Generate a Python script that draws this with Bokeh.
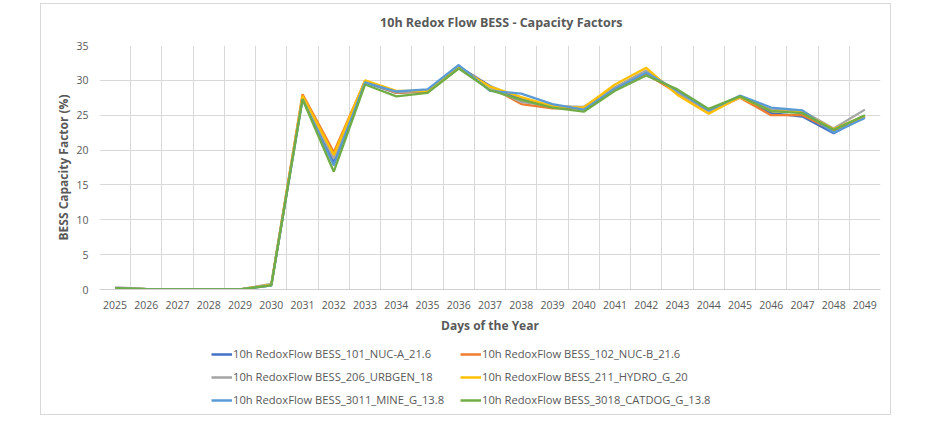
from bokeh.plotting import figure
from bokeh.models import FixedTicker, Legend, LegendItem, Label
from bokeh.layouts import column
from bokeh.embed import file_html
from bokeh.resources import INLINE

years = list(range(2025, 2050))

title_text = "10h Redox Flow BESS - Capacity Factors"
names = [
    "10h RedoxFlow BESS_101_NUC-A_21.6",
    "10h RedoxFlow BESS_102_NUC-B_21.6",
    "10h RedoxFlow BESS_206_URBGEN_18",
    "10h RedoxFlow BESS_211_HYDRO_G_20",
    "10h RedoxFlow BESS_3011_MINE_G_13.8",
    "10h RedoxFlow BESS_3018_CATDOG_G_13.8",
]
colors = ["#4472C4", "#ED7D31", "#A5A5A5", "#FFC000", "#5B9BD5", "#70AD47"]

s101 = [0.2, 0.05, 0, 0, 0, 0.6, 27.5, 18.2, 29.7, 28.2, 28.5, 32.0, 29.2, 27.3, 26.3,
        25.9, 28.7, 31.0, 28.5, 25.6, 27.7, 25.3, 24.8, 22.4, 24.8]
s102 = [0.2, 0.05, 0, 0, 0, 0.7, 28.0, 19.7, 29.9, 28.2, 28.4, 31.9, 29.1, 26.6, 26.0,
        26.0, 28.6, 30.9, 28.2, 25.4, 27.5, 25.0, 25.0, 22.8, 24.9]
s206 = [0.3, 0.1, 0, 0, 0, 0.8, 27.6, 18.8, 29.8, 28.3, 28.5, 31.9, 29.0, 26.9, 26.3,
        26.2, 29.0, 31.4, 28.3, 25.5, 27.6, 25.8, 25.6, 23.1, 25.8]
s211 = [0.2, 0.05, 0, 0, 0, 0.7, 27.8, 19.3, 30.0, 28.5, 28.5, 31.8, 29.1, 27.6, 26.3,
        26.1, 29.4, 31.8, 27.9, 25.2, 27.6, 25.6, 25.4, 23.0, 24.9]
s3011 = [0.2, 0.05, 0, 0, 0, 0.6, 27.3, 17.8, 29.7, 28.4, 28.7, 32.2, 28.5, 28.1, 26.6,
         25.8, 28.8, 31.1, 28.5, 25.7, 27.8, 26.1, 25.7, 22.5, 24.6]
s3018 = [0.2, 0.05, 0, 0, 0, 0.6, 27.3, 16.9, 29.4, 27.7, 28.2, 31.7, 28.6, 27.2, 26.1,
         25.5, 28.5, 30.7, 28.7, 25.9, 27.7, 25.6, 25.3, 22.9, 25.0]
series = [s101, s102, s206, s211, s3011, s3018]

y_ticks = [0, 5, 10, 15, 20, 25, 30, 35]

TXT = "#595959"
FONT = "Open Sans"


def strip(height):
    f = figure(width=849, height=height, output_backend="svg", toolbar_location=None,
               x_range=(0, 1), y_range=(0, 1), min_border=0)
    f.axis.visible = False
    f.grid.visible = False
    f.outline_line_color = None
    f.background_fill_color = "white"
    f.border_fill_color = "white"
    return f


# ---------------- title strip ----------------
tt = strip(32)
tt.add_layout(Label(x=0.5145, y=0.44, text=title_text, text_align="center",
                    text_baseline="middle", text_font=FONT, text_font_size="12.5px",
                    text_font_style="bold", text_color=TXT))

# ---------------- main chart ----------------
p = figure(width=849, height=307, output_backend="svg", toolbar_location=None,
           x_range=(years[0] - 0.5, years[-1] + 0.5), y_range=(0, 35),
           min_border_left=58, min_border_right=10, min_border_top=9,
           min_border_bottom=54)
p.outline_line_color = None
p.background_fill_color = "white"
p.border_fill_color = "white"

p.xgrid.ticker = FixedTicker(ticks=[y - 0.5 for y in years] + [years[-1] + 0.5])
p.xgrid.grid_line_color = "#D9D9D9"
p.ygrid.grid_line_color = "#D9D9D9"

xa = p.xaxis[0]
xa.ticker = FixedTicker(ticks=years)
xa.axis_line_color = "#D0D0D0"
xa.major_tick_out = 0
xa.major_tick_in = 0
xa.minor_tick_out = 0
xa.minor_tick_in = 0
xa.major_tick_line_color = None
xa.minor_tick_line_color = None
xa.major_label_text_font = FONT
xa.major_label_text_font_size = "10.5px"
xa.major_label_text_color = TXT
xa.major_label_standoff = 11
xa.axis_label = "Days of the Year"
xa.axis_label_text_font = FONT
xa.axis_label_text_font_size = "12px"
xa.axis_label_text_font_style = "bold"
xa.axis_label_text_color = TXT
xa.axis_label_standoff = 5

ya = p.yaxis[0]
ya.ticker = FixedTicker(ticks=y_ticks)
ya.axis_line_color = None
ya.major_tick_out = 0
ya.major_tick_in = 0
ya.minor_tick_out = 0
ya.minor_tick_in = 0
ya.major_tick_line_color = None
ya.minor_tick_line_color = None
ya.major_label_text_font = FONT
ya.major_label_text_font_size = "10.5px"
ya.major_label_text_color = TXT
ya.major_label_standoff = 11
ya.axis_label = "BESS Capacity Factor (%)"
ya.axis_label_text_font = FONT
ya.axis_label_text_font_size = "12px"
ya.axis_label_text_font_style = "bold"
ya.axis_label_text_color = TXT
ya.axis_label_standoff = 1

for vals, c in zip(series, colors):
    p.line(years, vals, line_color=c, line_width=2.3)

# ---------------- legend strip ----------------
lg = strip(71)
keys = []
for c in colors:
    # legend keys only: drawn off-range so they never show in the strip
    keys.append(lg.line(x=[-5, -4], y=[-5, -5], line_color=c, line_width=2.5))


def make_legend(idx, loc):
    L = Legend(items=[LegendItem(label=names[i], renderers=[keys[i]]) for i in idx],
               location=loc)
    L.label_text_font = FONT
    L.label_text_font_size = "11.2px"
    L.label_text_color = TXT
    L.glyph_width = 21
    L.glyph_height = 14
    L.label_height = 14
    L.label_standoff = 1
    L.spacing = 8
    L.padding = 0
    L.margin = 0
    L.border_line_color = None
    L.background_fill_alpha = 0
    return L


lg.add_layout(make_legend([0, 2, 4], (112, 7)))
lg.add_layout(make_legend([1, 3, 5], (361, 7)))

layout = column(tt, p, lg, spacing=0)
layout.styles = {"margin-left": "41px", "margin-top": "4px",
                 "outline": "1px solid #D9D9D9"}

open("out.html", "w").write(file_html(layout, INLINE))
